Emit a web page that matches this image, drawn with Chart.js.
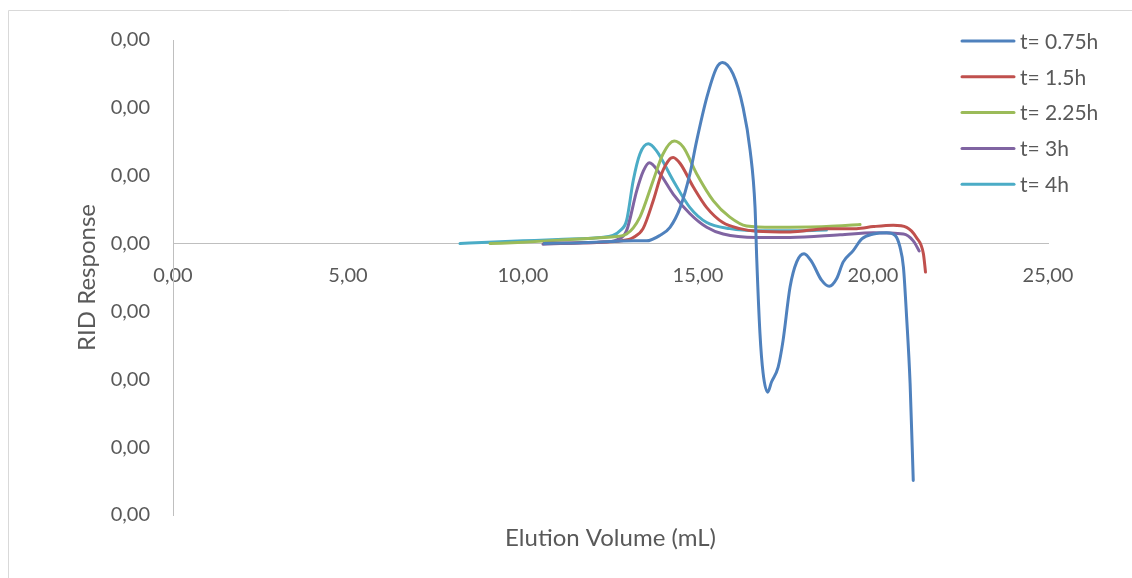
<!DOCTYPE html>
<html>
<head>
<meta charset="utf-8">
<script src="https://cdn.jsdelivr.net/npm/chart.js@4"></script>
<style>
  html, body { margin: 0; padding: 0; background: #fff; }
  #wrap { position: relative; width: 1132px; height: 578px; }
</style>
</head>
<body>
<div id="wrap"><canvas id="ridChart" width="1132" height="578"></canvas></div>
<script>
// series labels
const seriesLabels = ["t= 0.75h", "t= 1.5h", "t= 2.25h", "t= 3h", "t= 4h"];
const seriesColors = ["#4F81BD", "#C0504D", "#9BBB59", "#8064A2", "#4BACC6"];

// elution volume (mL) and RID response (x 10^-3)
const volA = [10.6, 11.5, 12.5, 13.15, 13.53, 13.91, 14.2, 14.49, 14.77, 14.96, 15.25, 15.53, 15.7, 16.0, 16.29, 16.49, 16.63, 16.68, 16.77, 16.86, 16.99, 17.1, 17.29, 17.43, 17.63, 17.82, 18.03, 18.25, 18.53, 18.75, 18.96, 19.15, 19.44, 19.68, 20.01, 20.39, 20.63, 20.77, 20.87, 20.96, 21.06, 21.15];
const respA = [0.00, 0.01, 0.03, 0.04, 0.04, 0.12, 0.24, 0.53, 1.03, 1.51, 2.15, 2.59, 2.67, 2.5, 2.0, 1.37, 0.53, -0.25, -1.32, -1.91, -2.19, -2.04, -1.82, -1.43, -0.64, -0.27, -0.15, -0.27, -0.54, -0.63, -0.52, -0.27, -0.10, 0.07, 0.14, 0.16, 0.12, -0.05, -0.35, -1.08, -2.06, -3.49];

const volB = [10.6, 11.5, 12.2, 12.8, 13.15, 13.43, 13.72, 13.96, 14.2, 14.29, 14.49, 14.87, 15.25, 15.71, 16.2, 16.68, 17.63, 18.67, 19.53, 20.01, 20.58, 20.96, 21.24, 21.44, 21.5];
const respB = [0.00, 0.01, 0.02, 0.04, 0.09, 0.22, 0.63, 1.03, 1.25, 1.27, 1.18, 0.83, 0.53, 0.31, 0.22, 0.18, 0.17, 0.22, 0.22, 0.25, 0.27, 0.24, 0.09, -0.15, -0.42];

const volC = [9.06, 10, 11, 12, 12.6, 12.96, 13.34, 13.72, 14.0, 14.32, 14.58, 14.96, 15.44, 15.91, 16.39, 17.15, 18.67, 19.63];
const respC = [0.00, 0.02, 0.05, 0.08, 0.10, 0.14, 0.39, 0.93, 1.32, 1.51, 1.42, 1.03, 0.63, 0.39, 0.26, 0.24, 0.25, 0.28];

const volD = [10.57, 11.5, 12.2, 12.7, 12.96, 13.25, 13.44, 13.61, 13.91, 14.29, 14.77, 15.25, 15.72, 16.68, 17.63, 19.06, 20.01, 20.87, 21.15, 21.32];
const respD = [-0.01, 0.01, 0.02, 0.06, 0.19, 0.78, 1.07, 1.19, 1.03, 0.73, 0.44, 0.24, 0.14, 0.09, 0.09, 0.13, 0.16, 0.14, 0.04, -0.11];

const volE = [8.2, 9, 10, 11, 12.2, 12.57, 12.77, 12.96, 13.15, 13.34, 13.58, 13.81, 14.29, 14.77, 15.25, 15.91, 16.68, 17.91, 18.67];
const respE = [0.00, 0.02, 0.04, 0.06, 0.09, 0.12, 0.19, 0.34, 0.93, 1.32, 1.47, 1.37, 0.93, 0.53, 0.31, 0.22, 0.19, 0.19, 0.20];

// axis ticks
const xTicks = [0, 5, 10, 15, 20, 25];
const yTicks = [-4, -3, -2, -1, 0, 1, 2, 3];

const vols = [volA, volB, volC, volD, volE];
const resps = [respA, respB, respC, respD, respE];

const textColor = "#595959";
const fontFamily = "Lato, 'Open Sans', sans-serif";

function comma2(v) {
  return Math.abs(v).toFixed(2).replace(".", ",");
}

const datasets = seriesLabels.map((lbl, i) => ({
  label: lbl,
  data: vols[i].map((x, j) => ({ x: x, y: resps[i][j] })),
  borderColor: seriesColors[i],
  backgroundColor: seriesColors[i],
  borderWidth: 3,
  pointRadius: 0,
  cubicInterpolationMode: "monotone",
  borderCapStyle: "round",
  borderJoinStyle: "round",
  fill: false,
}));

// legend, x title and outer frame drawn by hand (Excel style)
const extras = {
  id: "extras",
  afterDraw(chart) {
    const c = chart.ctx;
    const area = chart.chartArea;
    c.save();
    // frame
    c.strokeStyle = "#D9D9D9";
    c.lineWidth = 1;
    c.beginPath();
    c.moveTo(8.5, 578);
    c.lineTo(8.5, 10.5);
    c.lineTo(1132, 10.5);
    c.stroke();
    // x title
    c.fillStyle = textColor;
    c.font = "24px " + fontFamily;
    c.textAlign = "center";
    c.textBaseline = "middle";
    c.fillText("Elution Volume (mL)", (area.left + area.right) / 2, 538);
    // legend
    c.textAlign = "left";
    c.font = "21px " + fontFamily;
    chart.data.datasets.forEach((ds, i) => {
      const y = 41 + i * 35.8;
      c.strokeStyle = ds.borderColor;
      c.lineWidth = 3;
      c.lineCap = "round";
      c.beginPath();
      c.moveTo(962, y);
      c.lineTo(1014, y);
      c.stroke();
      c.fillStyle = textColor;
      c.fillText(ds.label, 1020, y + 1);
    });
    c.restore();
  },
};

const ctx = document.getElementById("ridChart").getContext("2d");
const ridChart = new Chart(ctx, {
  type: "line",
  data: { datasets: datasets },
  options: {
    responsive: false,
    animation: false,
    layout: { padding: { left: 0, top: 40, right: 84, bottom: 63 } },
    plugins: {
      legend: { display: false },
      tooltip: { enabled: false },
    },
    scales: {
      x: {
        type: "linear",
        position: { y: 0 },
        min: 0,
        max: 25,
        afterBuildTicks: (s) => { s.ticks = xTicks.map((v) => ({ value: v })); },
        ticks: {
          callback: (v) => comma2(v),
          color: textColor,
          font: { family: fontFamily, size: 20 },
          padding: 20,
          maxRotation: 0,
        },
        grid: { display: false, drawTicks: false },
        border: { display: true, color: "#BFBFBF", width: 1 },
      },
      y: {
        type: "linear",
        min: -4,
        max: 3,
        afterBuildTicks: (s) => { s.ticks = yTicks.map((v) => ({ value: v })); },
        afterFit: (s) => { s.width = 173; },
        ticks: {
          callback: (v) => comma2(v / 1000),
          color: textColor,
          font: { family: fontFamily, size: 20 },
          padding: 23,
        },
        title: {
          display: true,
          text: "RID Response",
          color: textColor,
          font: { family: fontFamily, size: 24 },
          padding: { top: 73, bottom: 0 },
        },
        grid: { display: false, drawTicks: false },
        border: { display: true, color: "#BFBFBF", width: 1 },
      },
    },
  },
  plugins: [extras],
});
</script>
</body>
</html>
